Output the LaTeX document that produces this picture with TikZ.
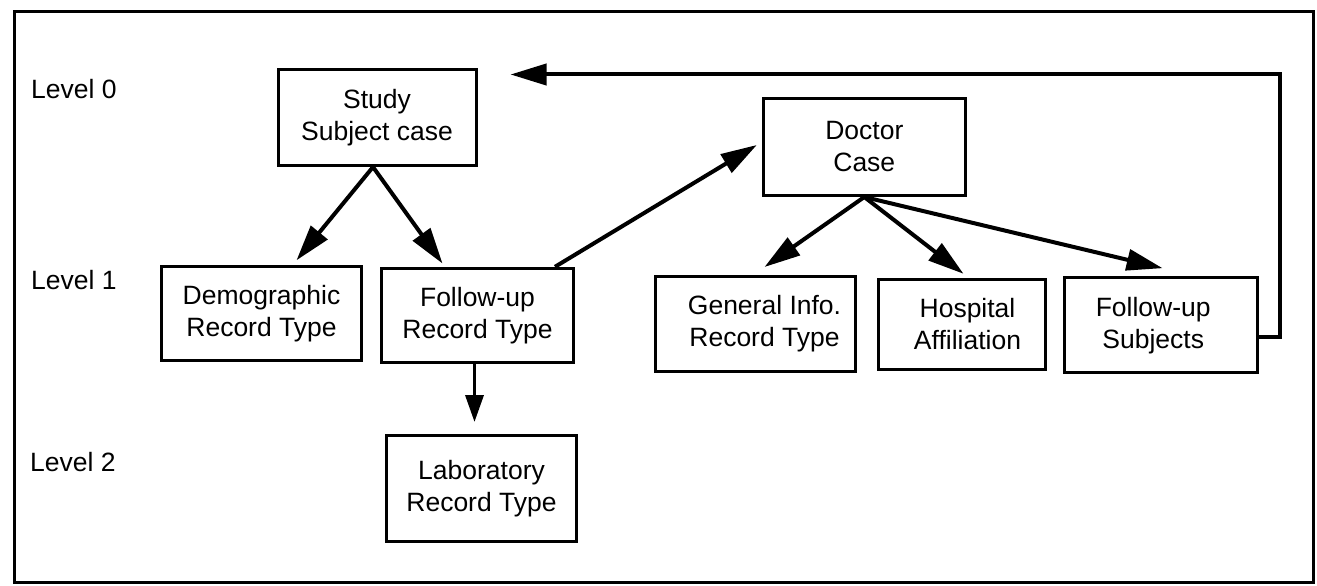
\documentclass[tikz,border=0pt]{standalone}
\usepackage{fontspec}
\setmainfont{Liberation Sans}
\usetikzlibrary{arrows.meta}
\begin{document}
\begin{tikzpicture}[x=1pt,y=-1pt,
  box/.style={draw, line width=3pt, align=center, inner sep=0pt,
    font=\fontsize{26.5}{32}\selectfont},
  lvl/.style={anchor=base west, inner sep=0pt, font=\fontsize{26.5}{32}\selectfont},
  arr/.style={line width=4pt, -{Triangle[length=36pt,width=21pt]}},
  arrs/.style={line width=3.5pt, -{Triangle[length=27pt,width=18pt]}}]
\useasboundingbox (0,0) rectangle (1317,586);
\draw[line width=3pt] (14,12) rectangle (1313,582);

% level labels
\node[lvl] (l0) at (31,98) {Level 0};
\node[lvl] (l1) at (31,289) {Level 1};
\node[lvl] (l2) at (30,471) {Level 2};

% boxes
\node[box, minimum width=198pt, minimum height=96pt] (study) at (377,117.5) {Study\\Subject case};
\node[box, minimum width=202pt, minimum height=97pt] (doctor) at (864.3,147) {Doctor\\Case};
\node[box, minimum width=200pt, minimum height=94pt] (demo) at (261.5,313.3) {Demographic\\Record Type};
\node[box, minimum width=192pt, minimum height=94pt] (fur) at (477.5,315.3) {Follow-up\\Record Type};
\node[box, minimum width=190pt, minimum height=106pt] (lab) at (481.5,488.5) {Laboratory\\Record Type};
\node[box, minimum width=200pt, minimum height=95pt] (gen) at (755.5,324) {\hspace*{18pt}General Info.\\\hspace*{18pt}Record Type};
\node[box, minimum width=167pt, minimum height=90pt] (hosp) at (961.5,324.3) {\hspace*{12pt}Hospital\\\hspace*{12pt}Affiliation};
\node[box, minimum width=193pt, minimum height=95pt] (fus) at (1161.2,325.2) {Follow-up\hspace*{16pt}\\Subjects\hspace*{16pt}};

% connectors
\draw[arr] ([xshift=-4pt]study.south) -- ([xshift=35pt,yshift=4.5pt]demo.north);
\draw[arr] ([xshift=-4pt]study.south) -- ([xshift=-35pt,yshift=3.3pt]fur.north);
\draw[arr] ([xshift=-20pt]fur.north east) -- ([xshift=-5pt,yshift=2pt]doctor.west);
\draw[arr] (doctor.south) -- ([xshift=9pt,yshift=8pt]gen.north);
\draw[arr] (doctor.south) -- ([xshift=2pt,yshift=4pt]hosp.north);
\draw[arr] (doctor.south) -- ([xshift=1.4pt,yshift=8pt]fus.north);
\draw[arrs] ([xshift=-3pt]fur.south) -- ([xshift=-7pt,yshift=12pt]lab.north);

% feedback loop
\coordinate (fbcorner) at (1280,74.5);
\coordinate (fbtip) at (510.5,74.5);
\draw[arr] ([yshift=-11.5pt]fus.east) -| (fbcorner) -- (fbtip);
\end{tikzpicture}
\end{document}
